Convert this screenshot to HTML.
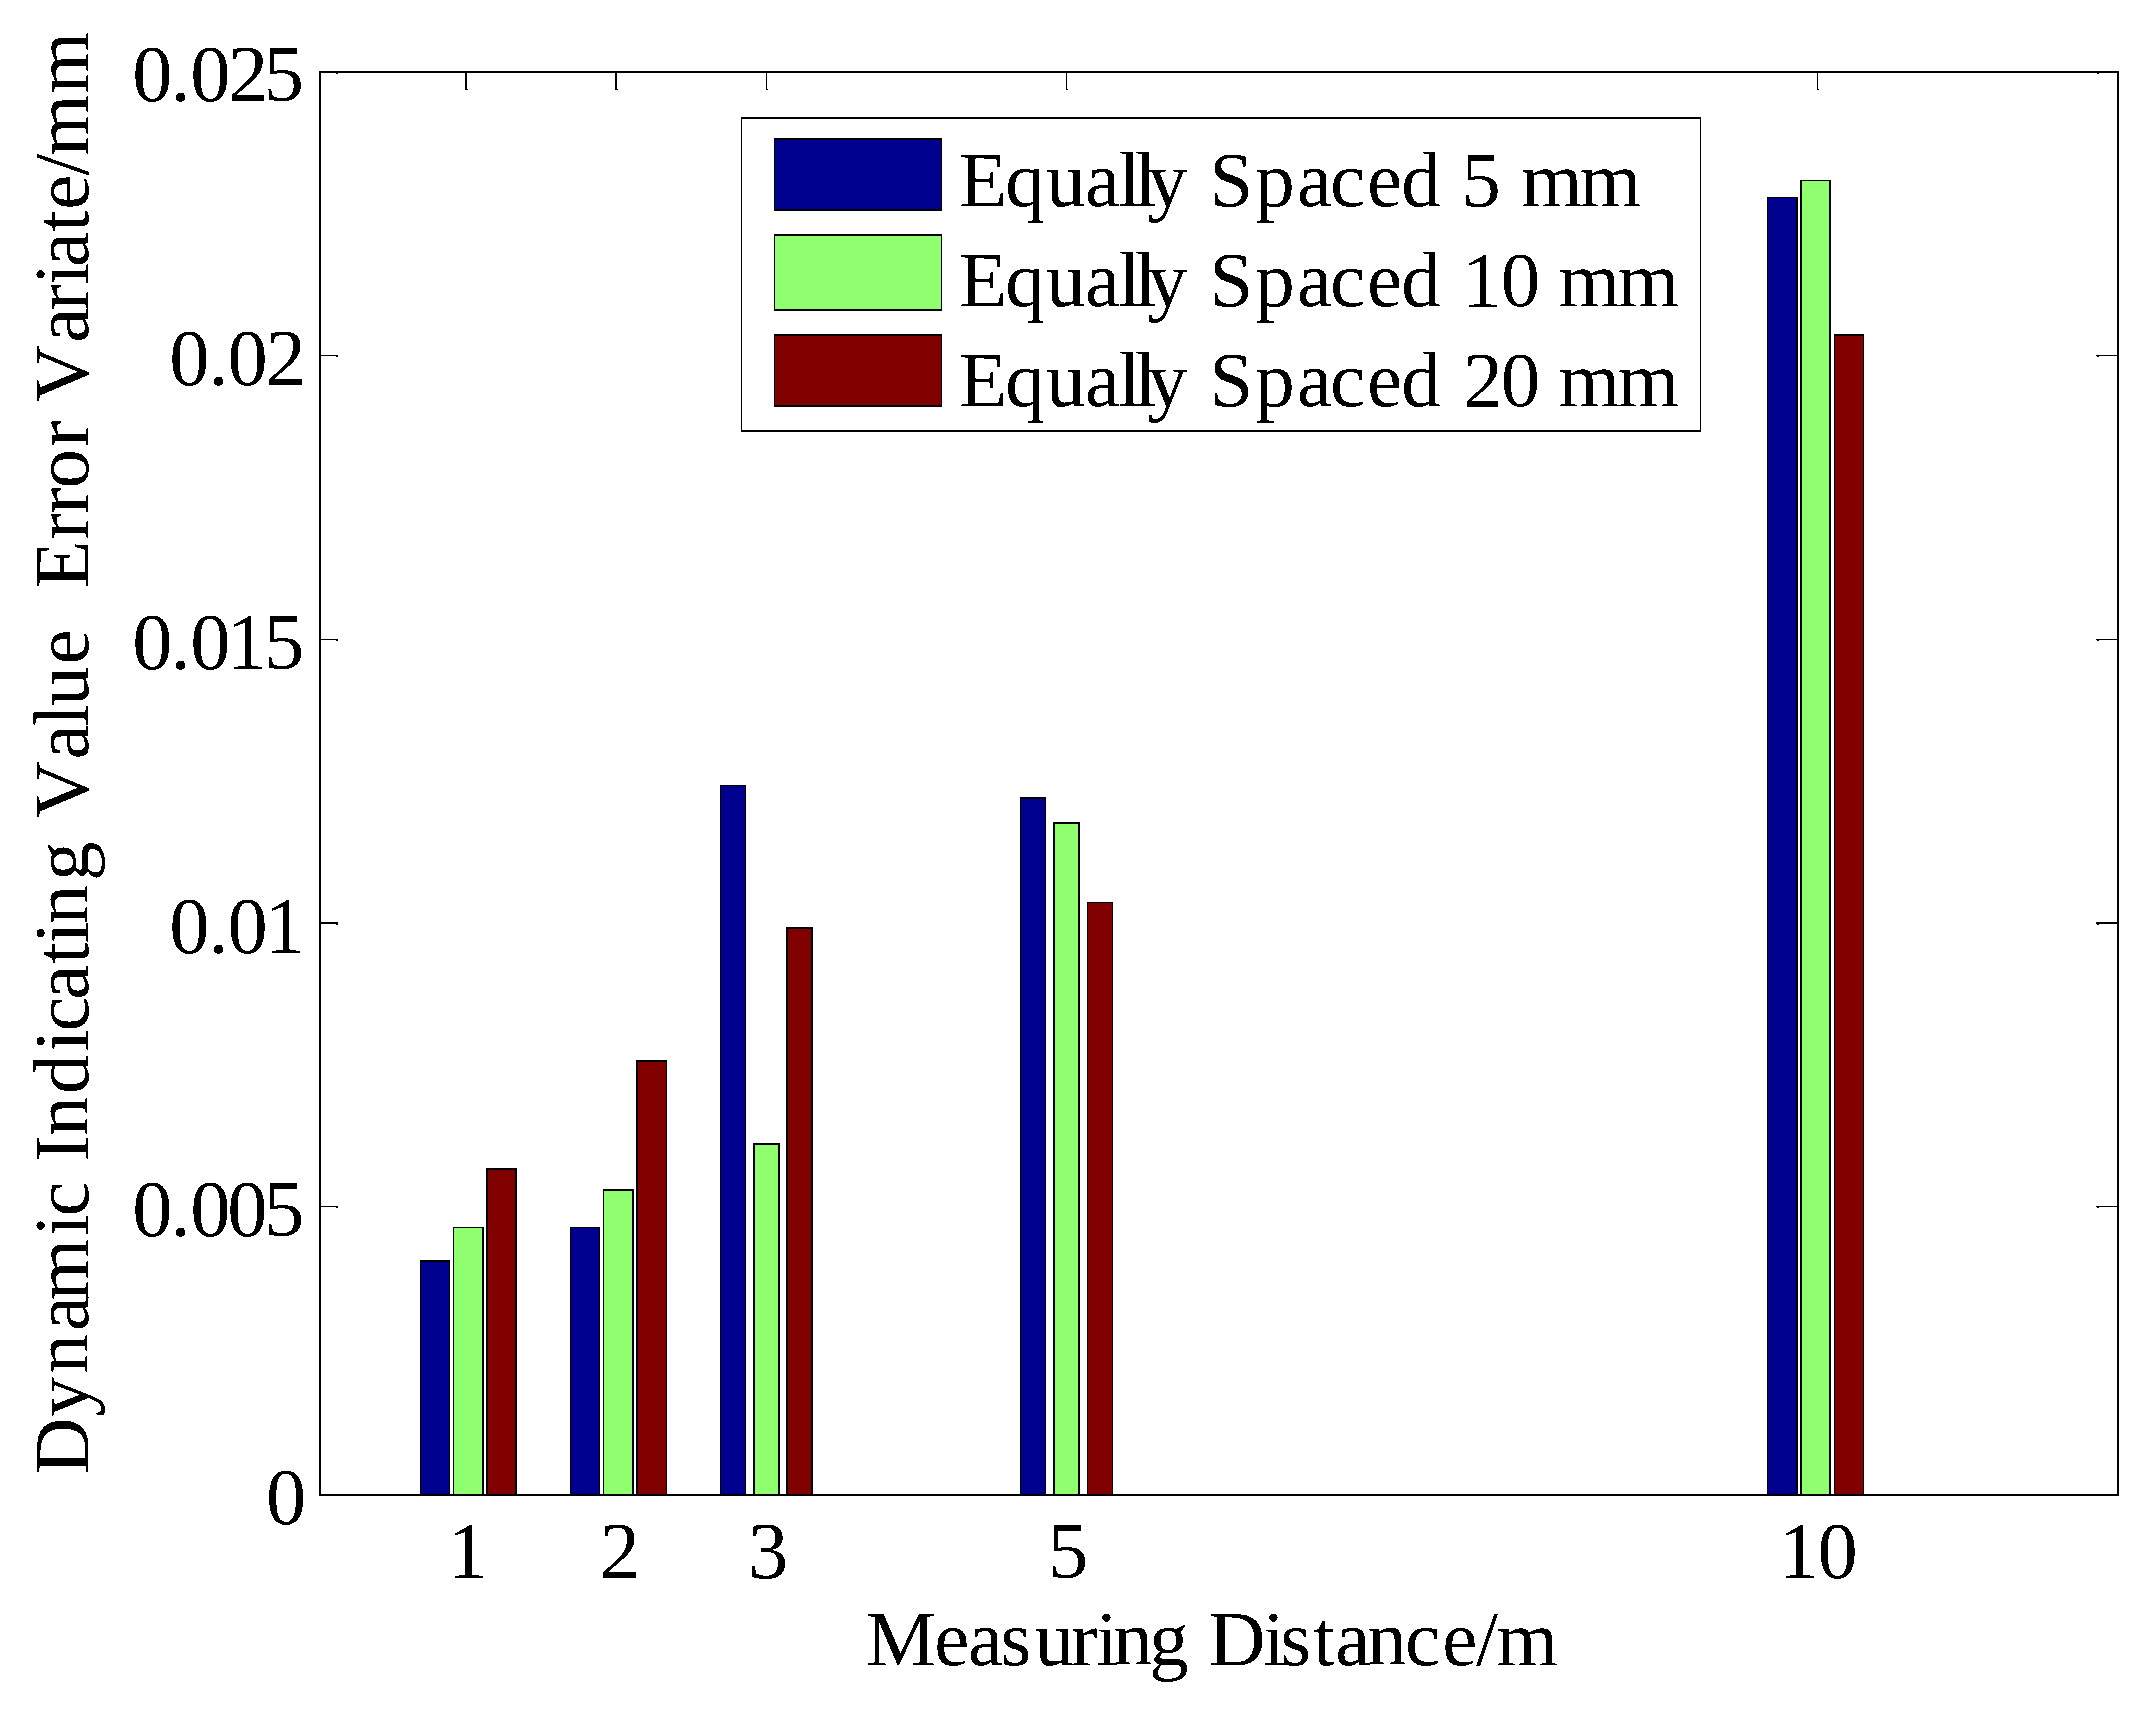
<!DOCTYPE html>
<html lang="en"><head><meta charset="utf-8"><title>Dynamic Indicating Value Error Variate vs Measuring Distance</title>
<style>
html,body{margin:0;padding:0;background:#fff;}
body{width:2152px;height:1715px;overflow:hidden;}
svg{display:block;}
text{font-family:"Liberation Serif", "Times New Roman", Times, serif;font-size:79px;fill:#000;font-kerning:none;white-space:pre;}
</style></head><body>
<svg width="2152" height="1715" viewBox="0 0 2152 1715">
<rect x="0" y="0" width="2152" height="1715" fill="#fff"/>
<defs><filter id="bw" x="0" y="0" width="2152" height="1715" filterUnits="userSpaceOnUse" color-interpolation-filters="sRGB"><feComponentTransfer><feFuncA type="discrete" tableValues="0 1"/></feComponentTransfer></filter></defs>
<g shape-rendering="crispEdges">
<g id="bars">
<rect x="420" y="1260" width="30" height="234" fill="#000"/>
<rect x="421" y="1262" width="28" height="232" fill="#00008F"/>
<rect x="453" y="1227" width="31" height="267" fill="#000"/>
<rect x="454" y="1228" width="28" height="266" fill="#8FFF70"/>
<rect x="486" y="1168" width="31" height="326" fill="#000"/>
<rect x="488" y="1170" width="27" height="324" fill="#800000"/>
<rect x="570" y="1227" width="30" height="267" fill="#000"/>
<rect x="571" y="1228" width="28" height="266" fill="#00008F"/>
<rect x="603" y="1189" width="31" height="305" fill="#000"/>
<rect x="604" y="1191" width="28" height="303" fill="#8FFF70"/>
<rect x="636" y="1060" width="31" height="434" fill="#000"/>
<rect x="638" y="1062" width="28" height="432" fill="#800000"/>
<rect x="720" y="785" width="26" height="709" fill="#000"/>
<rect x="721" y="786" width="24" height="708" fill="#00008F"/>
<rect x="753" y="1143" width="27" height="351" fill="#000"/>
<rect x="755" y="1145" width="23" height="349" fill="#8FFF70"/>
<rect x="786" y="927" width="27" height="567" fill="#000"/>
<rect x="788" y="929" width="23" height="565" fill="#800000"/>
<rect x="1020" y="797" width="26" height="697" fill="#000"/>
<rect x="1021" y="799" width="24" height="695" fill="#00008F"/>
<rect x="1053" y="822" width="27" height="672" fill="#000"/>
<rect x="1055" y="824" width="23" height="670" fill="#8FFF70"/>
<rect x="1087" y="902" width="26" height="592" fill="#000"/>
<rect x="1088" y="903" width="24" height="591" fill="#800000"/>
<rect x="1767" y="197" width="31" height="1297" fill="#000"/>
<rect x="1768" y="198" width="28" height="1296" fill="#00008F"/>
<rect x="1800" y="180" width="31" height="1314" fill="#000"/>
<rect x="1802" y="181" width="27" height="1313" fill="#8FFF70"/>
<rect x="1834" y="334" width="30" height="1160" fill="#000"/>
<rect x="1835" y="336" width="28" height="1158" fill="#800000"/>
</g>
<g id="axes">
<rect x="319" y="71" width="1800" height="2" fill="#000"/>
<rect x="319" y="1494" width="1800" height="2" fill="#000"/>
<rect x="319" y="71" width="2" height="1425" fill="#000"/>
<rect x="2117" y="71" width="2" height="1425" fill="#000"/>
<rect x="321" y="355" width="17" height="1" fill="#000"/>
<rect x="336" y="356" width="2" height="1" fill="#000"/>
<rect x="2096" y="355" width="21" height="1" fill="#000"/>
<rect x="2097" y="356" width="2" height="1" fill="#000"/>
<rect x="321" y="639" width="17" height="1" fill="#000"/>
<rect x="336" y="640" width="2" height="1" fill="#000"/>
<rect x="2096" y="639" width="21" height="1" fill="#000"/>
<rect x="2097" y="640" width="2" height="1" fill="#000"/>
<rect x="321" y="922" width="17" height="2" fill="#000"/>
<rect x="336" y="924" width="2" height="1" fill="#000"/>
<rect x="2096" y="922" width="21" height="2" fill="#000"/>
<rect x="2097" y="924" width="2" height="1" fill="#000"/>
<rect x="321" y="1206" width="17" height="1" fill="#000"/>
<rect x="336" y="1207" width="2" height="1" fill="#000"/>
<rect x="2096" y="1206" width="21" height="1" fill="#000"/>
<rect x="2097" y="1207" width="2" height="1" fill="#000"/>
<rect x="336" y="73" width="2" height="1" fill="#000"/>
<rect x="2097" y="73" width="2" height="1" fill="#000"/>
<rect x="465" y="73" width="2" height="17" fill="#000"/>
<rect x="467" y="89" width="1" height="1" fill="#000"/>
<rect x="615" y="73" width="2" height="17" fill="#000"/>
<rect x="617" y="89" width="1" height="1" fill="#000"/>
<rect x="766" y="73" width="1" height="17" fill="#000"/>
<rect x="767" y="89" width="1" height="1" fill="#000"/>
<rect x="1066" y="73" width="1" height="17" fill="#000"/>
<rect x="1067" y="89" width="1" height="1" fill="#000"/>
<rect x="1817" y="73" width="1" height="17" fill="#000"/>
<rect x="1818" y="89" width="1" height="1" fill="#000"/>
</g>
<g id="legend">
<rect x="741" y="117" width="960" height="315" fill="#000"/>
<rect x="742" y="119" width="958" height="311" fill="#fff"/>
<rect x="774" y="138" width="168" height="73" fill="#000"/>
<rect x="775" y="140" width="166" height="69" fill="#00008F"/>
<rect x="774" y="234" width="168" height="77" fill="#000"/>
<rect x="775" y="236" width="166" height="73" fill="#8FFF70"/>
<rect x="774" y="334" width="168" height="73" fill="#000"/>
<rect x="775" y="336" width="166" height="69" fill="#800000"/>
</g>
</g>
<g id="labels" filter="url(#bw)">
<g id="legend-labels">
<text x="959.0 1005.3 1046.3 1085.1 1118.4 1134.5 1147.8 1187.3 1209.2 1255.2 1297.1 1330.0 1367.1 1401.3 1440.8 1461.3 1500.8 1521.1 1579.7" y="206">Equally Spaced 5 mm</text>
<text x="959.0 1005.3 1046.3 1085.1 1118.4 1134.5 1147.8 1187.3 1209.2 1255.2 1297.1 1330.0 1367.1 1401.3 1440.8 1462.1 1500.7 1540.2 1558.6 1617.7" y="306">Equally Spaced 10 mm</text>
<text x="959.0 1005.3 1046.3 1085.1 1118.4 1134.5 1147.8 1187.3 1209.2 1255.2 1297.1 1330.0 1367.1 1401.3 1440.8 1463.2 1500.7 1540.2 1558.6 1617.7" y="406">Equally Spaced 20 mm</text>
</g>
<g id="ytick-labels">
<text x="132.3 170.4 190.3 227.9 263.8" y="100.6" style="font-size:80.5px">0.025</text>
<text x="169.3 208.4 227.4 265.7" y="385" style="font-size:80.5px">0.02</text>
<text x="132.2 170.4 190.3 226.7 264.1" y="669" style="font-size:80.5px">0.015</text>
<text x="169.3 208.4 227.4 264.8" y="953" style="font-size:80.5px">0.01</text>
<text x="132.2 170.4 190.3 227.2 264.1" y="1236" style="font-size:80.5px">0.005</text>
<text x="266.0" y="1523.5" style="font-size:80.5px">0</text>
</g>
<g id="xtick-labels">
<text x="447.6" y="1578.2" style="font-size:80.5px">1</text>
<text x="599.8" y="1578.2" style="font-size:80.5px">2</text>
<text x="748.0" y="1578.2" style="font-size:80.5px">3</text>
<text x="1048.1" y="1578.2" style="font-size:80.5px">5</text>
<text x="1778.6 1817.4" y="1578.2" style="font-size:80.5px">10</text>
</g>
<text x="865.7 934.2 968.0 1000.5 1034.5 1070.9 1096.0 1112.9 1149.3 1188.8 1208.4 1263.1 1280.2 1312.9 1335.3 1367.1 1405.1 1442.3 1476.0 1496.6" y="1664.7" id="xlabel">Measuring Distance/m</text>
<text x="-1474.4 -1416.6 -1373.6 -1331.1 -1300.2 -1235.9 -1216.4 -1181.4 -1161.5 -1135.9 -1093.9 -1051.5 -1031.5 -999.7 -964.1 -943.6 -924.2 -881.1 -841.6 -818.3 -759.5 -726.3 -705.7 -664.5 -629.4 -609.6 -588.7 -539.5 -514.0 -488.5 -447.0 -420.7 -402.3 -342.8 -310.6 -284.8 -267.0 -231.9 -209.7 -175.7 -156.0 -93.5" y="0" id="ylabel" transform="translate(87.9,0) rotate(-90)">Dynamic Indicating Value  Error Variate/mm</text>
</g>
</svg></body></html>
